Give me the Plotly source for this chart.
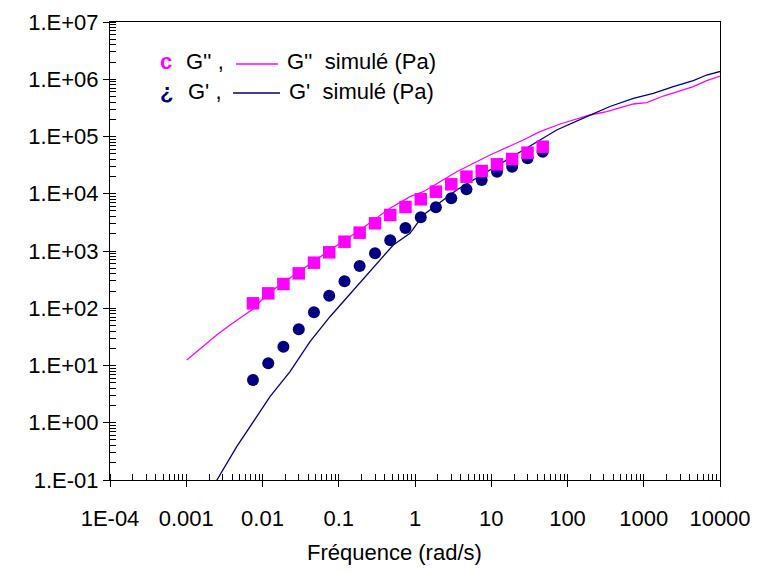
import plotly.graph_objects as go

# Measured data (frequency in rad/s, moduli in Pa)
freq = [0.0075, 0.0119, 0.0188, 0.0299, 0.0473, 0.075, 0.119, 0.188, 0.299, 0.473,
        0.75, 1.19, 1.88, 2.99, 4.73, 7.5, 11.9, 18.8, 29.9, 47.3]
g2 = [122, 182, 265, 407, 625, 949, 1453, 2089, 3048, 4254,
      5870, 8000, 10860, 14620, 19860, 24960, 32680, 40460, 52120, 66370]
g1 = [5.58, 10.9, 21.3, 42.9, 84.9, 165, 296, 547, 912, 1538,
      2523, 3880, 5797, 8320, 11960, 17380, 24270, 29700, 41610, 54250]

# Simulated curves
sim2_x = [0.001015, 0.002506, 0.00375, 0.00507, 0.00721, 0.01254, 0.031, 0.0767, 0.190, 0.470,
          0.859, 1.285, 3.52, 9.64, 26.3, 43.6, 79.8, 197.2, 326.6, 729.6,
          1094, 1803, 4467, 6693, 12850]
sim2_y = [12.5, 34.1, 51, 66.7, 93.2, 192, 448, 1041, 2328, 5570,
          8880, 10860, 24270, 47530, 86900, 121300, 165300, 237500, 271200, 369800,
          389400, 509700, 741000, 943300, 1271000]
sim1_x = [0.00224, 0.00459, 0.0084, 0.01254, 0.02297, 0.04198, 0.0767, 0.1148, 0.2, 0.3476,
          0.519, 0.859, 1.285, 3.52, 9.64, 26.3, 72.1, 178.6, 360.6, 729.6,
          1334, 2442, 4467, 6693, 12850]
sim1_y = [0.0764, 0.382, 1.28, 2.85, 7.8, 26.1, 71.2, 130, 311, 697,
          1273, 2037, 4254, 11630, 26000, 58100, 130000, 221800, 334400, 464800,
          568300, 741000, 943300, 1186000, 1492000]

x_tickvals = [1e-4, 1e-3, 1e-2, 1e-1, 1, 10, 100, 1000, 10000]
x_ticktext = ["1E-04", "0.001", "0.01", "0.1", "1", "10", "100", "1000", "10000"]
y_tickvals = [1e-1, 1, 10, 100, 1e3, 1e4, 1e5, 1e6, 1e7]
y_ticktext = ["1.E-01", "1.E+00", "1.E+01", "1.E+02", "1.E+03", "1.E+04", "1.E+05", "1.E+06", "1.E+07"]

MAG = "#FF00FF"
NAVY = "#000080"
FONT = "Liberation Sans, Arial, sans-serif"
FS = 22

fig = go.Figure()
fig.add_trace(go.Scatter(x=sim2_x, y=sim2_y, mode="lines", line=dict(color=MAG, width=1.3),
                         showlegend=False))
fig.add_trace(go.Scatter(x=sim1_x, y=sim1_y, mode="lines", line=dict(color=NAVY, width=1.3),
                         showlegend=False))
fig.add_trace(go.Scatter(x=freq, y=g1, mode="markers",
                         marker=dict(symbol="circle", size=12, color=NAVY, line=dict(width=0)),
                         showlegend=False))
fig.add_trace(go.Scatter(x=freq, y=g2, mode="markers",
                         marker=dict(symbol="square", size=12.5, color=MAG, line=dict(width=0)),
                         showlegend=False))

axis_common = dict(
    type="log", showgrid=False, zeroline=False, showline=True, linecolor="black", linewidth=1.2,
    mirror=True, ticks="outside", ticklen=6, tickcolor="black", tickwidth=1,
    tickfont=dict(family=FONT, size=FS, color="black"),
    minor=dict(ticks="inside", ticklen=6, tickcolor="black", dtick="D1", showgrid=False),
)

fig.update_xaxes(range=[-4, 4], tickvals=x_tickvals, ticktext=x_ticktext,
                 ticklabelstandoff=12, **axis_common)
fig.update_yaxes(range=[-1, 7], tickvals=y_tickvals, ticktext=y_ticktext, **axis_common)

# Axis title
fig.add_annotation(x=0.467, y=-0.159, xref="paper", yref="paper", text="Fréquence (rad/s)",
                   showarrow=False, xanchor="center", yanchor="middle",
                   font=dict(family=FONT, size=FS, color="black"))

# Legend drawn as text + line shapes
ann_font = dict(family=FONT, size=FS, color="black")
rows = [
    dict(sym="c", sym_color=MAG, lab="G'' ,", sim="G''\u00a0 simulé (Pa)", y=0.9127,
         lx0=0.2066, lx1=0.2754, ly=0.9083, col=MAG, labx=0.122, simx=0.2869),
    dict(sym="¿", sym_color=NAVY, lab="G' ,", sim="G'\u00a0\u00a0simulé (Pa)", y=0.8493,
         lx0=0.2016, lx1=0.2787, ly=0.845, col=NAVY, labx=0.125, simx=0.290),
]
for r in rows:
    fig.add_annotation(x=0.0787, y=r["y"], xref="paper", yref="paper", text="<b>" + r["sym"] + "</b>",
                       showarrow=False, xanchor="left", yanchor="middle",
                       font=dict(family=FONT, size=FS, color=r["sym_color"]))
    fig.add_annotation(x=r["labx"], y=r["y"], xref="paper", yref="paper", text=r["lab"],
                       showarrow=False, xanchor="left", yanchor="middle", font=ann_font)
    fig.add_annotation(x=r["simx"], y=r["y"], xref="paper", yref="paper", text=r["sim"],
                       showarrow=False, xanchor="left", yanchor="middle", font=ann_font)
    fig.add_shape(type="line", xref="paper", yref="paper", x0=r["lx0"], x1=r["lx1"],
                  y0=r["ly"], y1=r["ly"], line=dict(color=r["col"], width=1.3))

fig.update_layout(
    width=750, height=564,
    margin=dict(l=102, r=38, t=14, b=92, autoexpand=False),
    paper_bgcolor="white", plot_bgcolor="white",
    font=dict(family=FONT, color="black"),
)

fig.write_html("out.html")
